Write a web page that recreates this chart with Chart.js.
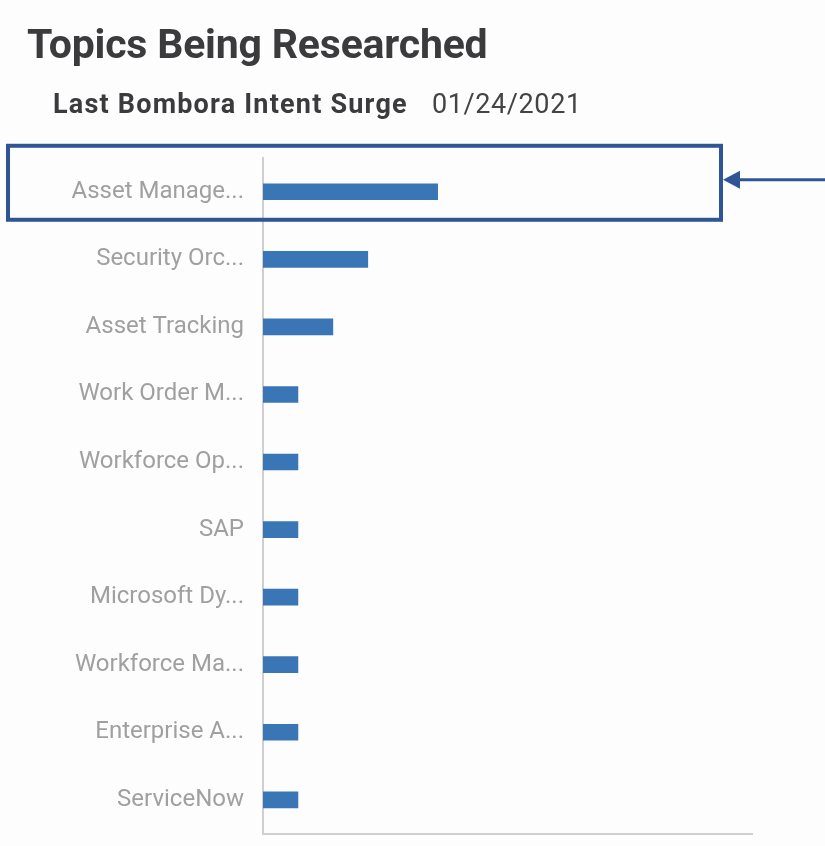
<!DOCTYPE html>
<html>
<head>
<meta charset="utf-8">
<script src="https://cdn.jsdelivr.net/npm/chart.js@4/dist/chart.umd.min.js"></script>
<style>
  html, body { margin: 0; padding: 0; background: #fdfdfd; }
  #wrap { position: relative; width: 825px; height: 846px; overflow: hidden; }
  .txt { position: absolute; font-family: Roboto, sans-serif; color: #3b3b3d; white-space: nowrap; }
  #title { left: 27px; top: 24px; font-size: 41px; line-height: 41px; font-weight: bold; letter-spacing: -0.2px; }
  #sub { left: 53px; top: 91px; font-size: 27px; line-height: 27px; font-weight: bold; letter-spacing: 1.2px; }
  #date { left: 432px; top: 91px; font-size: 27px; line-height: 27px; letter-spacing: 0.6px; color: #444; }
  #cv { position: absolute; left: 0; top: 0; }
</style>
</head>
<body>
<div id="wrap">
  <canvas id="cv" width="825" height="859"></canvas>
  <div id="title" class="txt">Topics Being Researched</div>
  <div id="sub" class="txt">Last Bombora Intent Surge</div>
  <div id="date" class="txt">01/24/2021</div>
</div>
<script>
// topics as shown (truncated in the widget)
const topics = ['Asset Manage...', 'Security Orc...', 'Asset Tracking', 'Work Order M...', 'Workforce Op...',
  'SAP', 'Microsoft Dy...', 'Workforce Ma...', 'Enterprise A...', 'ServiceNow'];
const surgeScores = [5, 3, 2, 1, 1, 1, 1, 1, 1, 1];
const xMax = 14;

// highlight box + arrow around the first row
const highlight = {
  id: 'highlight',
  afterDraw(chart) {
    const c = chart.ctx;
    const y = chart.scales.y.getPixelForValue(0);
    c.save();
    c.strokeStyle = '#2f5597';
    c.lineWidth = 4;
    c.strokeRect(8, y - 46, 713, 74);
    c.lineWidth = 3;
    c.beginPath();
    c.moveTo(825, y - 12);
    c.lineTo(735, y - 12);
    c.stroke();
    c.fillStyle = '#2f5597';
    c.beginPath();
    c.moveTo(723, y - 12);
    c.lineTo(740, y - 21);
    c.lineTo(740, y - 3);
    c.closePath();
    c.fill();
    c.restore();
  }
};

const ctx = document.getElementById('cv').getContext('2d');
new Chart(ctx, {
  type: 'bar',
  data: {
    labels: topics,
    datasets: [{
      data: surgeScores,
      backgroundColor: '#3a75b6',
      barThickness: 16
    }]
  },
  options: {
    indexAxis: 'y',
    responsive: false,
    animation: false,
    layout: { padding: { top: 158, bottom: 13, right: 73, left: 0 } },
    plugins: { legend: { display: false }, tooltip: { enabled: false } },
    scales: {
      x: {
        min: 0, max: xMax,
        grid: { display: false },
        ticks: { display: false },
        border: { display: true, color: '#cfcfcf', width: 2 },
        afterFit: s => { s.height = 0; }
      },
      y: {
        grid: { display: false },
        border: { display: true, color: '#cfcfcf', width: 2 },
        ticks: { color: '#a0a0a0', padding: 11, font: { family: 'Roboto', size: 24 } },
        afterFit: s => { s.width = 263; }
      }
    }
  },
  plugins: [highlight]
});
</script>
</body>
</html>
